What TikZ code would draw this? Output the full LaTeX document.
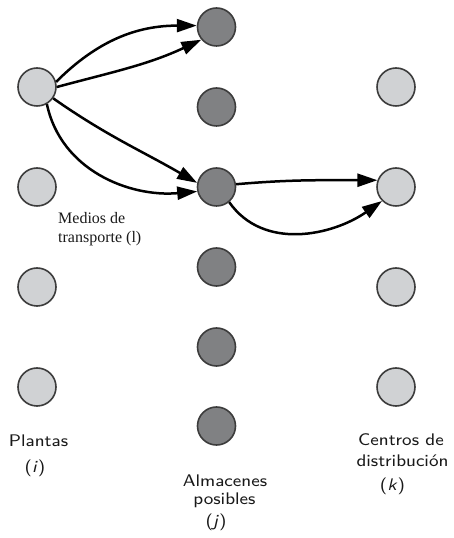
\documentclass[tikz,border=0pt]{standalone}
\usepackage{fontspec}
\setmainfont{Liberation Serif}
\newfontfamily\labfont{lmsans8}[Extension=.otf, UprightFont=*-regular, ItalicFont=*-oblique, FakeStretch=1.07]
\usetikzlibrary{arrows.meta}
\definecolor{plantfill}{RGB}{208,210,212}
\definecolor{storefill}{RGB}{128,129,131}
\definecolor{rimcol}{RGB}{60,60,60}
\tikzset{
  site/.style={circle, inner sep=0pt, minimum size=38pt, draw=rimcol, line width=1.6pt},
  plant/.style={site, fill=plantfill},
  store/.style={site, fill=storefill},
  centre/.style={site, fill=plantfill},
  flow/.style={line width=2.5pt, -{Triangle[length=20pt, width=13pt]}},
  lab/.style={font=\labfont\fontsize{16.8}{20}\selectfont, text=black!90, inner sep=0pt, anchor=base},
  note/.style={font=\fontsize{16}{19}\selectfont, text=black!90, inner sep=0pt, anchor=base west}
}
\begin{document}
\begin{tikzpicture}[x=1pt, y=1pt]
\useasboundingbox (0,0) rectangle (454,538);

% plants (i)
\node[plant] (p1) at (37,451) {};
\node[plant] (p2) at (37,351) {};
\node[plant] (p3) at (37,251) {};
\node[plant] (p4) at (37,151) {};

% possible warehouses (j)
\node[store] (a1) at (216.5,511) {};
\node[store] (a2) at (216.5,431) {};
\node[store] (a3) at (216.5,351) {};
\node[store] (a4) at (216.5,271) {};
\node[store] (a5) at (216.5,191) {};
\node[store] (a6) at (216.5,112) {};

% distribution centres (k)
\node[centre] (c1) at (396,451) {};
\node[centre] (c2) at (396,351) {};
\node[centre] (c3) at (396,251) {};
\node[centre] (c4) at (396,151) {};

% transport links
\draw[flow] (p1.15) to[out=45, in=180] (a1.176);
\draw[flow] (p1.0) to[out=15, in=205] (a1.220);
\draw[flow] (p1.-35) to[out=-35, in=150] (a3.168);
\draw[flow] (p1.-60) to[out=-78, in=185] (a3.193);
\draw[flow] (a3.8) to[out=5, in=180] (c2.160);
\draw[flow] (a3.-50) to[out=-55, in=215] (c2.225);

% captions
\node[note] (m1) at (58,314) {Medios de};
\node[note] (m2) at (58,295) {transporte (l)};

\node[lab] (t1) at (38.5,91) {Plantas};
\node[lab] (t2) at (35,65) {(\textit{i})};

\node[lab] (u1) at (225,51.5) {Almacenes};
\node[lab] (u2) at (224.5,33) {posibles};
\node[lab] (u3) at (216,12) {(\textit{j})};

\node[lab] (v1) at (401,92) {Centros de};
\node[lab] (v2) at (402.5,71.5) {distribución};
\node[lab] (v3) at (392.5,47) {(\textit{k})};
\end{tikzpicture}
\end{document}
